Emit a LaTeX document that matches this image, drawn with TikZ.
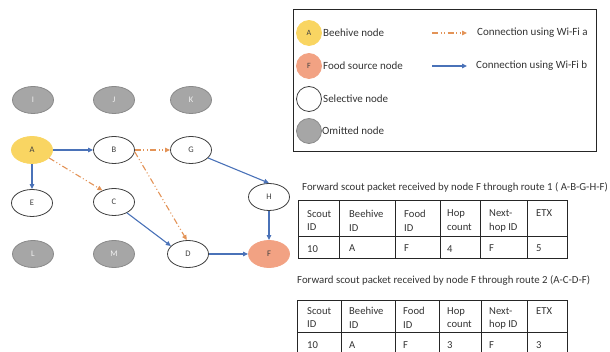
\documentclass[tikz,border=0pt]{standalone}
\usepackage{fontspec}
\setmainfont{Carlito}
\usetikzlibrary{shapes.geometric,arrows.meta}
\definecolor{hiveY}{HTML}{F9D562}
\definecolor{foodR}{HTML}{F2A283}
\definecolor{omitG}{HTML}{A6A6A6}
\definecolor{omitB}{HTML}{8A8A8A}
\definecolor{wifiB}{HTML}{4A72B8}
\definecolor{wifiA}{HTML}{E39357}
\definecolor{ink}{HTML}{404040}
\tikzset{
  nd/.style={ellipse, draw=ink, line width=0.8pt, minimum width=41pt, minimum height=27pt,
    inner sep=0pt, font=\fontsize{8.5}{9}\selectfont, text=ink},
  hive/.style={nd, fill=hiveY, draw=hiveY},
  food/.style={nd, fill=foodR, draw=foodR},
  sel/.style={nd, fill=white},
  omit/.style={nd, fill=omitG, draw=omitB, text=white!85!omitG},
  lgc/.style={circle, draw=ink, line width=0.8pt, minimum size=25pt, inner sep=0pt,
    font=\fontsize{8}{9}\selectfont, text=ink},
  lgtext/.style={anchor=west, inner sep=0pt, font=\fontsize{11}{12}\selectfont, text=black!80},
  tip/.style={-{Triangle[length=5pt,width=4.5pt]}},
  linkb/.style={tip, draw=wifiB, line width=1.1pt},
  linka/.style={tip, draw=wifiA, line width=1.1pt,
    dash pattern=on 6pt off 2.5pt on 1pt off 2.5pt on 1pt off 2.5pt},
  captxt/.style={anchor=west, inner sep=0pt, font=\fontsize{10.8}{12}\selectfont, text=black!80},
  cell/.style={anchor=north west, inner sep=0pt, align=left,
    font=\fontsize{10.6}{13.7}\selectfont, text=black!80},
  tblline/.style={draw=black!85, line width=1pt}
}
\begin{document}
\begin{tikzpicture}[x=1pt, y=-1pt]
\useasboundingbox (0,0) rectangle (610,352);

% ---- network ----
\node[omit] (I) at (33,100) {I};
\node[omit] (J) at (114,100) {J};
\node[omit] (K) at (191,100) {K};
\node[hive] (A) at (32,150) {A};
\node[sel]  (B) at (114,150) {B};
\node[sel]  (G) at (191,150) {G};
\node[sel]  (E) at (32,203) {E};
\node[sel]  (C) at (114,202) {C};
\node[sel]  (H) at (269,197) {H};
\node[omit] (L) at (33,254) {L};
\node[omit] (M) at (114,254) {M};
\node[sel]  (D) at (188,254) {D};
\node[food] (F) at (269,254) {F};

\draw[linkb] (A.east) -- (B.west);
\draw[linkb] (A.south) -- (E.north);
\draw[linka] (A.-25) -- (C.135);
\draw[linka] (B.east) -- (G.west);
\draw[linka] (B.-5) -- (D.95);
\draw[linkb] (G.-25) -- (H.north);
\draw[linkb] (C.-40) -- (D.155);
\draw[linkb] (H.south) -- (F.north);
\draw[linkb] (D.east) -- (F.west);

% ---- legend ----
\node[draw=black!85, line width=1pt, minimum width=303pt, minimum height=142pt,
  inner sep=0pt] (legend) at (444.5,81) {};
\node[lgc, fill=hiveY, draw=hiveY] (lA) at (309,33) {A};
\node[lgtext] (tA) at (323,33) {Beehive node};
\node[lgc, fill=foodR, draw=foodR] (lF) at (309,66) {F};
\node[lgtext] (tF) at (323,66) {Food source node};
\node[lgc, fill=white] (lS) at (309,99) {};
\node[lgtext] (tS) at (323,99) {Selective node};
\node[lgc, fill=omitG, draw=omitB] (lO) at (309,131) {};
\node[lgtext] (tO) at (322,131) {Omitted node};
\coordinate (la0) at (432,33);
\coordinate (la1) at (467,33);
\coordinate (lb0) at (432,66);
\coordinate (lb1) at (467,66);
\draw[linka] (la0) -- (la1);
\draw[linkb] (lb0) -- (lb1);
\node[lgtext] (ta) at (477,33) {Connection using Wi-Fi a};
\node[lgtext] (tb) at (476,66) {Connection using Wi-Fi b};

% ---- table 1 ----
\node[captxt] (cap1) at (302,187) {Forward scout packet received by node F through route 1 ( A-B-G-H-F)};
\draw[tblline] (298,201) rectangle (567,259);
\draw[tblline] (298,237) -- (567,237);
\foreach \x in {339.5,395,440,480,527} \draw[tblline] (\x,201) -- (\x,259);
\node[cell] (t1h1) at (307,210) {Scout\\ID};
\node[cell] (t1h2) at (349,210) {Beehive\\ID};
\node[cell] (t1h3) at (404,210) {Food\\ID};
\node[cell] (t1h4) at (447,210) {Hop\\count};
\node[cell] (t1h5) at (489,210) {Next-\\hop ID};
\node[cell] (t1h6) at (536,210) {ETX};
\node[cell] (t1v1) at (307,245) {10};
\node[cell] (t1v2) at (349,245) {A};
\node[cell] (t1v3) at (404,245) {F};
\node[cell] (t1v4) at (447,245) {4};
\node[cell] (t1v5) at (489,245) {F};
\node[cell] (t1v6) at (536,245) {5};

% ---- table 2 ----
\node[captxt] (cap2) at (297,280) {Forward scout packet received by node F through route 2 (A-C-D-F)};
\draw[tblline] (297,360) -- (297,301) -- (567,301) -- (567,360);
\draw[tblline] (297,333) -- (567,333);
\foreach \x in {341,395,439,481,527} \draw[tblline] (\x,301) -- (\x,360);
\node[cell] (t2h1) at (307,307) {Scout\\ID};
\node[cell] (t2h2) at (349,307) {Beehive\\ID};
\node[cell] (t2h3) at (403,307) {Food\\ID};
\node[cell] (t2h4) at (447,307) {Hop\\count};
\node[cell] (t2h5) at (489,307) {Next-\\hop ID};
\node[cell] (t2h6) at (536,307) {ETX};
\node[cell] (t2v1) at (307,341) {10};
\node[cell] (t2v2) at (349,341) {A};
\node[cell] (t2v3) at (403,341) {F};
\node[cell] (t2v4) at (447,341) {3};
\node[cell] (t2v5) at (489,341) {F};
\node[cell] (t2v6) at (536,341) {3};
\end{tikzpicture}
\end{document}
